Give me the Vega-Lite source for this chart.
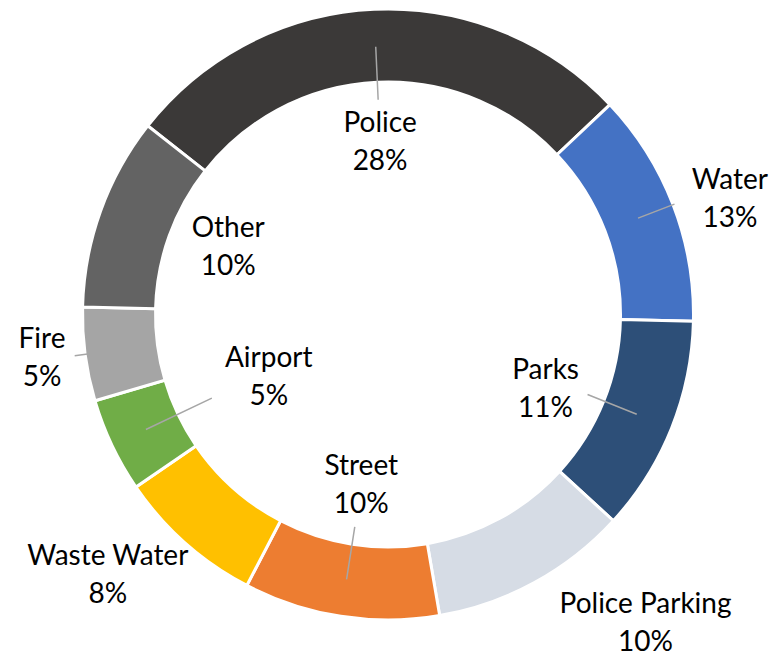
{
  "$schema": "https://vega.github.io/schema/vega-lite/v6.json",
  "autosize": {"type": "none"},
  "width": 776,
  "height": 629,
  "padding": {"left": 0, "top": 0, "right": 8, "bottom": 28},
  "background": "#ffffff",
  "view": {"stroke": null},
  "data": {
    "values": [
      {"i": 1, "category": "Police", "value": 27.35, "label": "28%"},
      {"i": 2, "category": "Water", "value": 12.4, "label": "13%"},
      {"i": 3, "category": "Parks", "value": 11.45, "label": "11%"},
      {"i": 4, "category": "Police Parking", "value": 10.5, "label": "10%"},
      {"i": 5, "category": "Street", "value": 10.35, "label": "10%"},
      {"i": 6, "category": "Waste Water", "value": 7.8, "label": "8%"},
      {"i": 7, "category": "Airport", "value": 5.0, "label": "5%"},
      {"i": 8, "category": "Fire", "value": 4.95, "label": "5%"},
      {"i": 9, "category": "Other", "value": 10.2, "label": "10%"}
    ]
  },
  "transform": [
    {"window": [{"op": "sum", "field": "value", "as": "cum"}], "sort": [{"field": "i"}], "frame": [null, 0]},
    {"calculate": "datum.cum - datum.value", "as": "start"},
    {"calculate": "datum.cum - datum.value / 2", "as": "mid"},
    {"calculate": "datum.category + '\\n' + datum.label", "as": "txt"}
  ],
  "layer": [
    {
      "mark": {"type": "arc", "outerRadius": 305.5, "innerRadius": 232.5, "stroke": "#ffffff", "strokeWidth": 3},
      "encoding": {
        "theta": {"field": "start", "type": "quantitative", "stack": null, "scale": {"domain": [0, 100], "range": [-0.905, 5.378]}},
        "theta2": {"field": "cum"},
        "color": {
          "field": "category", "type": "nominal", "legend": null,
          "scale": {
            "domain": ["Police", "Water", "Parks", "Police Parking", "Street", "Waste Water", "Airport", "Fire", "Other"],
            "range": ["#3B3938", "#4472C4", "#2D4F78", "#D6DCE5", "#ED7D31", "#FFC000", "#70AD47", "#A5A5A5", "#636363"]
          }
        }
      }
    },
    {
      "transform": [{"filter": {"field": "category", "oneOf": ["Police", "Parks", "Street"]}}],
      "mark": {"type": "arc", "radius": 268, "radius2": 215, "stroke": "#A6A6A6", "strokeWidth": 1.5, "fillOpacity": 0},
      "encoding": {
        "theta": {"field": "mid", "type": "quantitative", "stack": null, "scale": {"domain": [0, 100], "range": [-0.905, 5.378]}},
        "theta2": {"field": "mid"}
      }
    },
    {
      "transform": [{"filter": {"field": "category", "equal": "Airport"}}],
      "mark": {"type": "arc", "radius": 268, "radius2": 195, "stroke": "#A6A6A6", "strokeWidth": 1.5, "fillOpacity": 0},
      "encoding": {
        "theta": {"field": "mid", "type": "quantitative", "stack": null, "scale": {"domain": [0, 100], "range": [-0.905, 5.378]}},
        "theta2": {"field": "mid"}
      }
    },
    {
      "transform": [{"filter": {"field": "category", "equal": "Water"}}],
      "mark": {"type": "arc", "radius": 307, "radius2": 268, "stroke": "#A6A6A6", "strokeWidth": 1.5, "fillOpacity": 0},
      "encoding": {
        "theta": {"field": "mid", "type": "quantitative", "stack": null, "scale": {"domain": [0, 100], "range": [-0.905, 5.378]}},
        "theta2": {"field": "mid"}
      }
    },
    {
      "transform": [{"filter": {"field": "category", "equal": "Fire"}}],
      "mark": {"type": "arc", "radius": 316, "radius2": 303, "stroke": "#A6A6A6", "strokeWidth": 1.5, "fillOpacity": 0},
      "encoding": {
        "theta": {"field": "mid", "type": "quantitative", "stack": null, "scale": {"domain": [0, 100], "range": [-0.905, 5.378]}},
        "theta2": {"field": "mid"}
      }
    },
    {
      "transform": [{"filter": {"field": "category", "oneOf": ["Police", "Street"]}}],
      "mark": {"type": "text", "radius": 173, "dy": -18, "font": "Lato", "fontSize": 28, "lineHeight": 38, "lineBreak": "\n", "align": "center", "baseline": "middle", "color": "#000000"},
      "encoding": {
        "theta": {"field": "mid", "type": "quantitative", "stack": null, "scale": {"domain": [0, 100], "range": [-0.905, 5.378]}},
        "text": {"field": "txt", "type": "nominal"}
      }
    },
    {
      "transform": [{"filter": {"field": "category", "equal": "Parks"}}],
      "mark": {"type": "text", "radius": 173, "dx": -3, "dy": -8, "font": "Lato", "fontSize": 28, "lineHeight": 38, "lineBreak": "\n", "align": "center", "baseline": "middle", "color": "#000000"},
      "encoding": {
        "theta": {"field": "mid", "type": "quantitative", "stack": null, "scale": {"domain": [0, 100], "range": [-0.905, 5.378]}},
        "text": {"field": "txt", "type": "nominal"}
      }
    },
    {
      "transform": [{"filter": {"field": "category", "equal": "Other"}}],
      "mark": {"type": "text", "radius": 173, "dx": 3, "dy": -27, "font": "Lato", "fontSize": 28, "lineHeight": 38, "lineBreak": "\n", "align": "center", "baseline": "middle", "color": "#000000"},
      "encoding": {
        "theta": {"field": "mid", "type": "quantitative", "stack": null, "scale": {"domain": [0, 100], "range": [-0.905, 5.378]}},
        "text": {"field": "txt", "type": "nominal"}
      }
    },
    {
      "transform": [{"filter": {"field": "category", "equal": "Airport"}}],
      "mark": {"type": "text", "radius": 132, "dy": -12, "font": "Lato", "fontSize": 28, "lineHeight": 38, "lineBreak": "\n", "align": "center", "baseline": "middle", "color": "#000000"},
      "encoding": {
        "theta": {"field": "mid", "type": "quantitative", "stack": null, "scale": {"domain": [0, 100], "range": [-0.905, 5.378]}},
        "text": {"field": "txt", "type": "nominal"}
      }
    },
    {
      "transform": [{"filter": {"field": "category", "equal": "Water"}}],
      "mark": {"type": "text", "radius": 361, "dx": 5, "dy": -4, "font": "Lato", "fontSize": 28, "lineHeight": 38, "lineBreak": "\n", "align": "center", "baseline": "middle", "color": "#000000"},
      "encoding": {
        "theta": {"field": "mid", "type": "quantitative", "stack": null, "scale": {"domain": [0, 100], "range": [-0.905, 5.378]}},
        "text": {"field": "txt", "type": "nominal"}
      }
    },
    {
      "transform": [{"filter": {"field": "category", "equal": "Fire"}}],
      "mark": {"type": "text", "radius": 349, "dy": -20, "font": "Lato", "fontSize": 28, "lineHeight": 38, "lineBreak": "\n", "align": "center", "baseline": "middle", "color": "#000000"},
      "encoding": {
        "theta": {"field": "mid", "type": "quantitative", "stack": null, "scale": {"domain": [0, 100], "range": [-0.905, 5.378]}},
        "text": {"field": "txt", "type": "nominal"}
      }
    },
    {
      "transform": [{"filter": {"field": "category", "equal": "Waste Water"}}],
      "mark": {"type": "text", "radius": 350, "dx": -48, "dy": -19, "font": "Lato", "fontSize": 28, "lineHeight": 38, "lineBreak": "\n", "align": "center", "baseline": "middle", "color": "#000000"},
      "encoding": {
        "theta": {"field": "mid", "type": "quantitative", "stack": null, "scale": {"domain": [0, 100], "range": [-0.905, 5.378]}},
        "text": {"field": "txt", "type": "nominal"}
      }
    },
    {
      "transform": [{"filter": {"field": "category", "equal": "Police Parking"}}],
      "mark": {"type": "text", "radius": 360, "dx": 85, "dy": -25, "font": "Lato", "fontSize": 28, "lineHeight": 38, "lineBreak": "\n", "align": "center", "baseline": "middle", "color": "#000000"},
      "encoding": {
        "theta": {"field": "mid", "type": "quantitative", "stack": null, "scale": {"domain": [0, 100], "range": [-0.905, 5.378]}},
        "text": {"field": "txt", "type": "nominal"}
      }
    }
  ]
}
